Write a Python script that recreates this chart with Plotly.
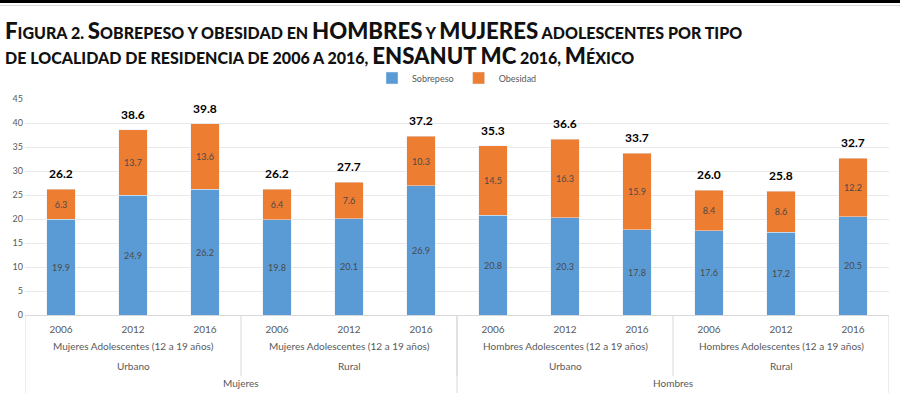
import plotly.graph_objects as go

# ---- data ----
years = ["2006", "2012", "2016"] * 4
grupo = ["Mujeres Adolescentes (12 a 19 años)"] * 6 + ["Hombres Adolescentes (12 a 19 años)"] * 6
localidad = ["Urbano"] * 3 + ["Rural"] * 3 + ["Urbano"] * 3 + ["Rural"] * 3
sexo = ["Mujeres"] * 6 + ["Hombres"] * 6
sobrepeso = [19.9, 24.9, 26.2, 19.8, 20.1, 26.9, 20.8, 20.3, 17.8, 17.6, 17.2, 20.5]
obesidad = [6.3, 13.7, 13.6, 6.4, 7.6, 10.3, 14.5, 16.3, 15.9, 8.4, 8.6, 12.2]
totales = [26.2, 38.6, 39.8, 26.2, 27.7, 37.2, 35.3, 36.6, 33.7, 26.0, 25.8, 32.7]
y_ticks = [0, 5, 10, 15, 20, 25, 30, 35, 40, 45]

title_line1 = "Figura 2. Sobrepeso y obesidad en HOMBRES y MUJERES adolescentes por tipo"
title_line2 = "de localidad de residencia de 2006 a 2016, ENSANUT MC 2016, México"

BLUE = "#5B9BD5"
ORANGE = "#ED7D31"
GRAY = "#595959"
FONT = "Lato"

W, H = 900, 393
ML, MR, MT, MB = 25, 11, 99, 78
PH = H - MT - MB
PW = W - ML - MR


def py(p):
    """pixel y -> paper y"""
    return (H - MB - p) / PH


def px(p):
    return (p - ML) / PW


def smallcaps(text, big=22.2, small=16.0):
    out = []
    for ch in text:
        if ch.isupper():
            out.append(f"<span style='font-size:{big}px'>{ch}</span>")
        else:
            out.append(f"<span style='font-size:{small}px'>{ch.upper()}</span>")
    return "".join(out)


x = list(range(len(years)))

fig = go.Figure()
fig.add_trace(go.Bar(
    x=x, y=sobrepeso, name="Sobrepeso", marker_color=BLUE,
    text=[f"{v:.1f}" for v in sobrepeso], textposition="inside",
    insidetextanchor="middle", textfont=dict(color="#4a4a4a", size=9, family=FONT),
))
fig.add_trace(go.Bar(
    x=x, y=obesidad, name="Obesidad", marker_color=ORANGE,
    text=[f"{v:.1f}" for v in obesidad], textposition="inside",
    insidetextanchor="middle", textfont=dict(color="#4a4a4a", size=9, family=FONT),
))

annotations = []
shapes = []

# totals above bars
for xi, t in zip(x, totales):
    annotations.append(dict(x=xi, y=t, xref="x", yref="y", text=f"{t:.1f}", showarrow=False,
                            yanchor="bottom", yshift=6,
                            font=dict(color="black", size=12, family=FONT, weight="bold")))


def groups(labels):
    res = []
    start = 0
    for i in range(1, len(labels) + 1):
        if i == len(labels) or labels[i] != labels[start]:
            res.append((start, i - 1, labels[start]))
            start = i
    return res


lvl2 = groups([g + "|" + l + "|" + s for g, l, s in zip(grupo, localidad, sexo)])
for (a, b, lab) in lvl2:
    annotations.append(dict(x=(a + b) / 2, y=py(346), xref="x", yref="paper", yanchor="middle",
                            text=lab.split("|")[0], showarrow=False,
                            font=dict(size=10, color=GRAY, family=FONT)))
    annotations.append(dict(x=(a + b) / 2, y=py(366), xref="x", yref="paper", yanchor="middle",
                            text=lab.split("|")[1], showarrow=False,
                            font=dict(size=10, color=GRAY, family=FONT)))
lvl3 = groups(sexo)
for (a, b, lab) in lvl3:
    annotations.append(dict(x=(a + b) / 2, y=py(383), xref="x", yref="paper", yanchor="middle",
                            text=lab, showarrow=False,
                            font=dict(size=10, color=GRAY, family=FONT)))

# dividers
line_style = dict(color="#D9D9D9", width=1)
for (a, b, lab) in lvl2[:-1]:
    shapes.append(dict(type="line", xref="x", yref="paper", x0=b + 0.5, x1=b + 0.5,
                       y0=py(316), y1=py(376), line=line_style))
for (a, b, lab) in lvl3[:-1]:
    shapes.append(dict(type="line", xref="x", yref="paper", x0=b + 0.5, x1=b + 0.5,
                       y0=py(316), y1=py(393), line=line_style))
for xe in (-0.5, len(x) - 0.5):
    shapes.append(dict(type="line", xref="x", yref="paper", x0=xe, x1=xe,
                       y0=py(316), y1=py(393), line=line_style))

# top rules
shapes.append(dict(type="rect", xref="paper", yref="paper", x0=px(0), x1=px(W),
                   y0=py(0), y1=py(3), fillcolor="black", line=dict(width=0)))
shapes.append(dict(type="line", xref="paper", yref="paper", x0=px(0), x1=px(W),
                   y0=py(5.5), y1=py(5.5), line=dict(color="#d8d8d8", width=1)))

# title
annotations.append(dict(x=px(3), y=py(31), xref="paper", yref="paper", xanchor="left",
                        yanchor="middle", showarrow=False, text=smallcaps(title_line1),
                        font=dict(family=FONT, color="#111111", weight=900)))
annotations.append(dict(x=px(3), y=py(56), xref="paper", yref="paper", xanchor="left",
                        yanchor="middle", showarrow=False, text=smallcaps(title_line2),
                        font=dict(family=FONT, color="#111111", weight=900)))

fig.update_layout(
    width=W, height=H,
    margin=dict(l=ML, r=MR, t=MT, b=MB, autoexpand=False),
    barmode="stack", bargap=0.6,
    plot_bgcolor="white", paper_bgcolor="white",
    font=dict(family=FONT, color=GRAY, size=10),
    showlegend=True,
    legend=dict(orientation="h", x=0.5, xanchor="center", y=py(78), yanchor="middle",
                font=dict(size=9, color=GRAY), itemwidth=30, traceorder="normal"),
    annotations=annotations, shapes=shapes,
    uniformtext=dict(minsize=8, mode="show"),
)
fig.update_xaxes(range=[-0.5, len(x) - 0.5], tickvals=x, ticktext=years, showgrid=False,
                 showline=True, linecolor="#D9D9D9", ticks="", tickfont=dict(size=10, color=GRAY),
                 ticklabelstandoff=5, zeroline=False, fixedrange=True)
fig.update_yaxes(range=[0, 45], tickvals=y_ticks, showgrid=True, gridcolor="#E8E8E8",
                 zeroline=False, showline=False, tickfont=dict(size=9, color=GRAY), ticks="",
                 ticklabelstandoff=1, fixedrange=True)

fig.write_html("out.html", config={"displayModeBar": False},
               post_script="document.body.style.margin='0';document.body.style.padding='0';")
